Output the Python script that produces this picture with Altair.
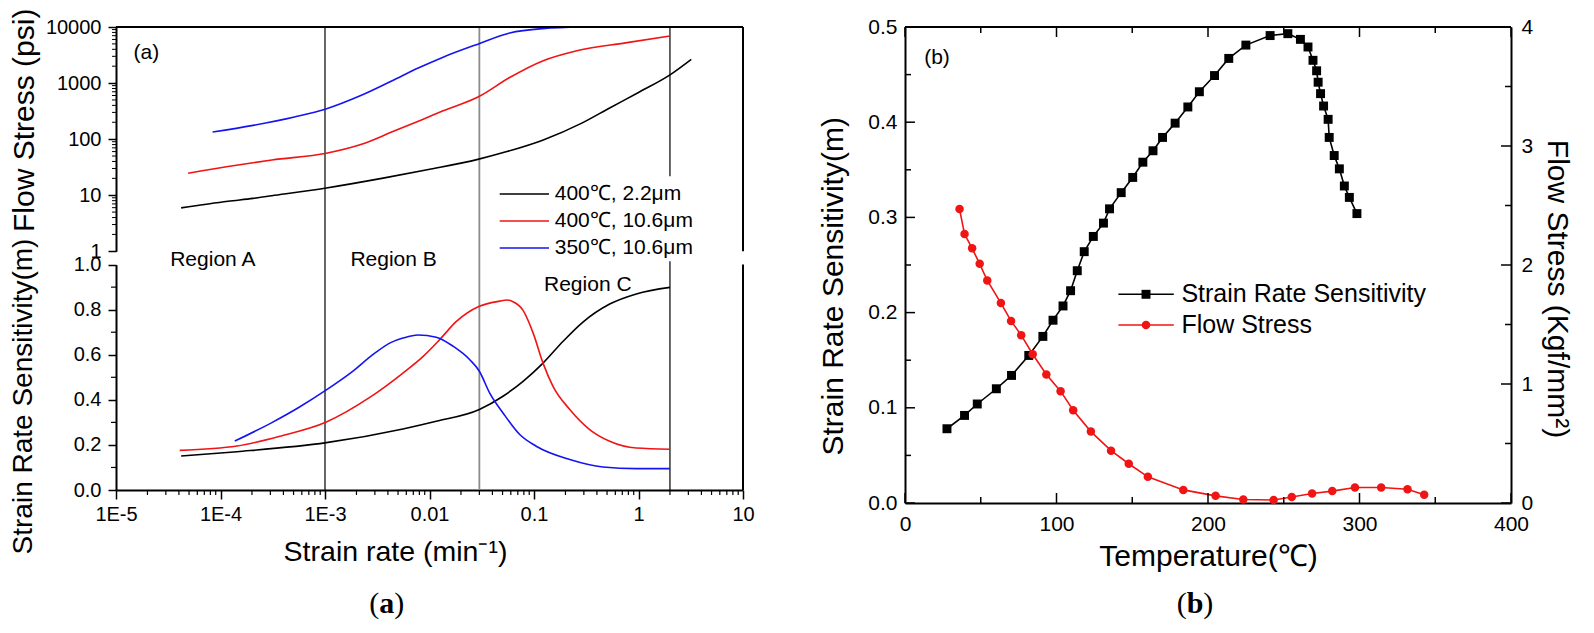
import altair as alt
import pandas as pd

FONT = "Liberation Sans"
SERIF = "Liberation Serif"

# ---------------- panel (a): data ----------------
series_names = ["400℃, 2.2μm", "400℃, 10.6μm", "350℃, 10.6μm"]
series_colors = ["#000000", "#f01414", "#1414f0"]

# flow stress (psi) vs strain rate (1/min)
fs_rate_400_22 = [4.2e-5, 1.18e-4, 2.05e-4, 3.1e-4, 1.03e-3, 3.6e-3, 9.5e-3, 0.029, 0.055, 0.121, 0.29, 0.53, 1.0, 2.0, 3.2]
fs_psi_400_22 = [5.95, 7.8, 8.8, 9.8, 13.5, 20.2, 28.5, 43.6, 60.0, 96.0, 195.0, 360.0, 680.0, 1400.0, 2650.0]
fs_rate_400_106 = [4.9e-5, 1.18e-4, 2.05e-4, 3.1e-4, 1.03e-3, 2.2e-3, 4.4e-3, 8.6e-3, 0.0135, 0.0294, 0.0585, 0.121, 0.252, 0.75, 2.0]
fs_psi_400_106 = [24.7, 32.5, 38.0, 42.5, 56.0, 80.0, 135.0, 225.0, 320.0, 570.0, 1256.0, 2480.0, 3720.0, 5210.0, 6900.0]
fs_rate_350_106 = [8.4e-5, 2.05e-4, 5.1e-4, 1.02e-3, 2.2e-3, 4.4e-3, 7.8e-3, 0.0135, 0.0294, 0.0585, 0.121, 0.29]
fs_psi_350_106 = [134.0, 176.0, 248.0, 345.0, 598.0, 1100.0, 1850.0, 2900.0, 5000.0, 7820.0, 9370.0, 10000.0]

# strain rate sensitivity m vs strain rate
m_rate_400_22 = [4.2e-5, 1.44e-4, 1.03e-3, 5.57e-3, 0.0116, 0.030, 0.0505, 0.0786, 0.122, 0.19, 0.294, 0.53, 0.953, 2.0]
m_400_22 = [0.151, 0.170, 0.210, 0.271, 0.305, 0.357, 0.416, 0.482, 0.563, 0.660, 0.745, 0.825, 0.870, 0.899]
m_rate_400_106 = [4.07e-5, 1.44e-4, 3.8e-4, 1.03e-3, 2.7e-3, 5.57e-3, 8.7e-3, 0.0125, 0.0181, 0.030, 0.047, 0.055, 0.063,
                  0.0786, 0.098, 0.122, 0.152, 0.22, 0.341, 0.53, 0.953, 2.0]
m_400_106 = [0.176, 0.195, 0.240, 0.302, 0.412, 0.519, 0.593, 0.667, 0.748, 0.815, 0.838, 0.843, 0.835,
             0.797, 0.697, 0.563, 0.460, 0.357, 0.268, 0.216, 0.186, 0.181]
m_rate_350_106 = [1.37e-4, 3.1e-4, 5.6e-4, 1.03e-3, 1.8e-3, 2.95e-3, 4.3e-3, 5.57e-3, 7.76e-3, 0.0116, 0.0168,
                  0.0243, 0.030, 0.0377, 0.0505, 0.073, 0.105, 0.22, 0.457, 0.953, 2.0]
m_350_106 = [0.217, 0.299, 0.366, 0.444, 0.523, 0.605, 0.655, 0.674, 0.688, 0.678, 0.638,
             0.578, 0.527, 0.430, 0.342, 0.246, 0.194, 0.135, 0.102, 0.095, 0.095]

region_rates = [1e-3, 0.03, 2.0]
region_colors = ["#000000", "#8c8c8c", "#000000"]
region_widths = [1.2, 1.8, 1.2]
region_labels = ["Region A", "Region B", "Region C"]

xa_ticks = [1e-5, 1e-4, 1e-3, 1e-2, 1e-1, 1, 10]
xa_tick_labels = ["1E-5", "1E-4", "1E-3", "0.01", "0.1", "1", "10"]
xa_minor = [k * 10.0 ** d for d in range(-5, 1) for k in range(2, 10)]
ya_top_ticks = [1, 10, 100, 1000, 10000]
ya_top_minor = [k * 10.0 ** d for d in range(0, 4) for k in range(2, 10)]
ya_bot_ticks = [0.0, 0.2, 0.4, 0.6, 0.8, 1.0]
ya_bot_minor = [0.1, 0.3, 0.5, 0.7, 0.9]

# ---------------- panel (b): data ----------------
legend_b = ["Strain Rate Sensitivity", "Flow Stress"]
temp_srs = [27.7, 39.3, 47.7, 60.3, 70.3, 81.7, 91.0, 97.7, 104.3, 109.3,
            113.7, 118.3, 124.3, 131.0, 135.0, 142.7, 150.3, 157.0, 163.7, 170.0,
            178.3, 186.7, 194.3, 204.3, 213.7, 225.0, 241.0, 252.7, 261.0, 266.0,
            269.3, 271.7, 272.7, 274.3, 276.3, 279.3, 280.0, 283.3, 286.7, 290.0,
            293.3, 298.3]
srs = [0.078, 0.092, 0.104, 0.120, 0.134, 0.155, 0.175, 0.192, 0.207, 0.223,
       0.244, 0.264, 0.280, 0.294, 0.309, 0.326, 0.342, 0.358, 0.370, 0.384,
       0.399, 0.416, 0.432, 0.449, 0.467, 0.481, 0.491, 0.493, 0.487, 0.479,
       0.465, 0.454, 0.442, 0.430, 0.417, 0.403, 0.384, 0.365, 0.351, 0.333,
       0.321, 0.304]
temp_fs = [36.0, 39.3, 44.3, 49.3, 54.3, 63.3, 70.0, 76.7, 84.3, 93.3,
           102.7, 111.0, 122.7, 136.0, 147.7, 160.3, 183.7, 205.0, 223.3, 243.3,
           255.3, 268.7, 282.0, 297.0, 314.3, 331.7, 342.7]
fs_kgf = [2.47, 2.26, 2.14, 2.01, 1.87, 1.68, 1.53, 1.41, 1.25, 1.08,
          0.94, 0.78, 0.60, 0.44, 0.33, 0.22, 0.11, 0.06, 0.03, 0.025,
          0.05, 0.08, 0.10, 0.13, 0.13, 0.115, 0.07]
xb_ticks = [0, 100, 200, 300, 400]
xb_minor = [50, 150, 250, 350]
ybl_ticks = [0.0, 0.1, 0.2, 0.3, 0.4, 0.5]
ybl_minor = [0.05, 0.15, 0.25, 0.35, 0.45]
ybr_ticks = [0, 1, 2, 3, 4]
ybr_minor = [0.5, 1.5, 2.5, 3.5]

# ---------------- tables ----------------
df_fs = pd.concat([
    pd.DataFrame({"rate": fs_rate_400_22, "psi": fs_psi_400_22, "series": series_names[0]}),
    pd.DataFrame({"rate": fs_rate_400_106, "psi": fs_psi_400_106, "series": series_names[1]}),
    pd.DataFrame({"rate": fs_rate_350_106, "psi": fs_psi_350_106, "series": series_names[2]}),
])
df_m = pd.concat([
    pd.DataFrame({"rate": m_rate_400_22, "m": m_400_22, "series": series_names[0]}),
    pd.DataFrame({"rate": m_rate_400_106, "m": m_400_106, "series": series_names[1]}),
    pd.DataFrame({"rate": m_rate_350_106, "m": m_350_106, "series": series_names[2]}),
])
df_region = pd.DataFrame({"rate": region_rates, "c": region_colors, "w": region_widths})
one = pd.DataFrame({"a": [0]})

# ---------------- panel (a) ----------------
WA, HA = 627, 463
TOP_RANGE = [224.3, 0]
BOT_RANGE = [HA, 237.6]

x_a_scale = alt.Scale(type="log", domain=[1e-5, 10], nice=False)
label_expr = "[" + ",".join("'%s'" % s for s in xa_tick_labels) + "][round(log(datum.value)/LN10)+5]"
x_a_axis = alt.Axis(values=xa_ticks, labelExpr=label_expr, tickSize=9, tickWidth=1.5, labelPadding=5,
                    labelFontSize=20, labelFlush=False, labelOverlap=False, domainWidth=2,
                    title="Strain rate (min⁻¹)", titleFontSize=28.5, titleX=279, titleY=61,
                    titleAlign="center", titleBaseline="middle", titleAngle=0)


def XA(field):
    return alt.X(field + ":Q", scale=x_a_scale, axis=x_a_axis)


y_top_scale = alt.Scale(type="log", domain=[1, 10000], range=TOP_RANGE, nice=False)
y_bot_scale = alt.Scale(domain=[0, 1], range=BOT_RANGE, zero=False, nice=False)
color_scale = alt.Scale(domain=series_names, range=series_colors)

top_lines = alt.Chart(df_fs).mark_line(strokeWidth=1.6, interpolate="monotone", clip=True).encode(
    x=XA("rate"),
    y=alt.Y("psi:Q", scale=y_top_scale,
            axis=alt.Axis(orient="left", values=ya_top_ticks, format="d", tickSize=8, tickWidth=1.5,
                          labelPadding=7, labelFontSize=20, labelOverlap=False, domainWidth=2,
                          title="Flow Stress (psi)", titleFontSize=30, titleX=-92, titleY=92.8,
                          titleAngle=270, titleAlign="center", titleBaseline="middle")),
    color=alt.Color("series:N", scale=color_scale, legend=None),
)
bot_lines = alt.Chart(df_m).mark_line(strokeWidth=1.6, interpolate="monotone", clip=True).encode(
    x=XA("rate"),
    y=alt.Y("m:Q", scale=y_bot_scale,
            axis=alt.Axis(orient="left", values=ya_bot_ticks, format=".1f", tickSize=8, tickWidth=1.5,
                          labelPadding=7, labelFontSize=20, labelOverlap=False, domainWidth=2,
                          title="Strain Rate Sensitivity(m)", titleFontSize=28, titleX=-93, titleY=369,
                          titleAngle=270, titleAlign="center", titleBaseline="middle")),
    color=alt.Color("series:N", scale=color_scale, legend=None),
)

xa_minor_layer = alt.Chart(pd.DataFrame({"v": xa_minor})).mark_rule(color="black", strokeWidth=1.2).encode(
    x=XA("v"), y=alt.value(HA), y2=alt.value(HA + 5))
ytop_minor_layer = alt.Chart(pd.DataFrame({"v": ya_top_minor})).mark_rule(color="black", strokeWidth=1).encode(
    y=alt.Y("v:Q", scale=y_top_scale, axis=None), x=alt.value(-4), x2=alt.value(0))
ybot_minor_layer = alt.Chart(pd.DataFrame({"v": ya_bot_minor})).mark_rule(color="black", strokeWidth=1.2).encode(
    y=alt.Y("v:Q", scale=y_bot_scale, axis=None), x=alt.value(-5), x2=alt.value(0))

region_lines = alt.Chart(df_region).mark_rule().encode(
    x=XA("rate"), y=alt.value(0), y2=alt.value(HA),
    color=alt.Color("c:N", scale=None), strokeWidth=alt.StrokeWidth("w:Q", scale=None))

frame_a = [
    alt.Chart(one).mark_rule(color="black", strokeWidth=2).encode(x=alt.value(0), x2=alt.value(WA), y=alt.value(0)),
    alt.Chart(one).mark_rule(color="black", strokeWidth=2).encode(x=alt.value(WA), y=alt.value(0), y2=alt.value(TOP_RANGE[0])),
    alt.Chart(one).mark_rule(color="black", strokeWidth=2).encode(x=alt.value(WA), y=alt.value(BOT_RANGE[1]), y2=alt.value(HA)),
]

legend_a = [alt.Chart(one).mark_rect(color="white").encode(
    x=alt.value(377), x2=alt.value(587), y=alt.value(149.3), y2=alt.value(234.3))]
for i, (nm, col) in enumerate(zip(series_names, series_colors)):
    yy = 167 + 27 * i
    legend_a.append(alt.Chart(one).mark_rule(color=col, strokeWidth=1.6).encode(
        x=alt.value(383.7), x2=alt.value(433), y=alt.value(yy)))
    legend_a.append(alt.Chart(pd.DataFrame({"t": [nm]})).mark_text(
        align="left", baseline="middle", fontSize=21, color="black").encode(
        x=alt.value(438.7), y=alt.value(yy), text="t:N"))

region_pos = [(96.8, 232.6), (277.6, 232.6), (471.8, 257.6)]
region_text = [alt.Chart(pd.DataFrame({"t": [lab]})).mark_text(
    align="center", baseline="middle", fontSize=21, color="black").encode(
    x=alt.value(px), y=alt.value(py), text="t:N") for lab, (px, py) in zip(region_labels, region_pos)]

tag_a = alt.Chart(pd.DataFrame({"t": ["(a)"]})).mark_text(
    align="center", baseline="middle", fontSize=21, color="black").encode(
    x=alt.value(30.3), y=alt.value(26), text="t:N")


def caption(cx, cy, letter, half):
    parts = [("(", "right", cx - half, "normal"), (letter, "center", cx, "bold"), (")", "left", cx + half, "normal")]
    return [alt.Chart(pd.DataFrame({"t": [s]})).mark_text(
        align=al, baseline="middle", fontSize=30, font=SERIF, fontWeight=fw, color="black").encode(
        x=alt.value(px), y=alt.value(cy), text="t:N") for s, al, px, fw in parts]


panel_a = alt.layer(
    region_lines, top_lines, bot_lines, xa_minor_layer, ytop_minor_layer, ybot_minor_layer,
    *frame_a, *legend_a, *region_text, tag_a, *caption(270.7, 577.3, "a", 7.5)
).resolve_scale(y="independent").properties(width=WA, height=HA)

# ---------------- panel (b) ----------------
WB, HB = 606, 476
df_srs = pd.DataFrame({"T": temp_srs, "m": srs})
df_fsb = pd.DataFrame({"T": temp_fs, "s": fs_kgf})

x_b_scale = alt.Scale(domain=[0, 400], nice=False)
x_b_axis = alt.Axis(values=xb_ticks, ticks=False, labelPadding=10, labelFontSize=21, labelFlush=False,
                    labelOverlap=False, domainWidth=2, title="Temperature(℃)", titleFontSize=30,
                    titleX=303, titleY=53, titleAlign="center", titleBaseline="middle", titleAngle=0)


def XB(field):
    return alt.X(field + ":Q", scale=x_b_scale, axis=x_b_axis)


y_bl_scale = alt.Scale(domain=[0, 0.5], nice=False, zero=False)
y_br_scale = alt.Scale(domain=[0, 4], nice=False, zero=False)
RED = "#f01414"

srs_line = alt.Chart(df_srs).mark_line(color="black", strokeWidth=1.6).encode(
    x=XB("T"),
    y=alt.Y("m:Q", scale=y_bl_scale,
            axis=alt.Axis(orient="left", values=ybl_ticks, format=".1f", ticks=False, labelPadding=8,
                          labelFontSize=21, labelOverlap=False, domainWidth=2,
                          title="Strain Rate Sensitivity(m)", titleFontSize=30, titleX=-71.3, titleY=258.8,
                          titleAngle=270, titleAlign="center", titleBaseline="middle")))
srs_pts = alt.Chart(df_srs).mark_point(shape="square", filled=True, size=80, color="black", opacity=1).encode(
    x=XB("T"), y=alt.Y("m:Q", scale=y_bl_scale, axis=None))
fs_line = alt.Chart(df_fsb).mark_line(color=RED, strokeWidth=1.6).encode(
    x=XB("T"),
    y=alt.Y("s:Q", scale=y_br_scale,
            axis=alt.Axis(orient="right", values=ybr_ticks, format="d", ticks=False, labelPadding=10,
                          labelFontSize=21, labelOverlap=False, domainWidth=2,
                          title="Flow Stress (Kgf/mm²)", titleFontSize=30, titleX=45, titleY=261.5,
                          titleAngle=90, titleAlign="center", titleBaseline="middle")))
fs_pts = alt.Chart(df_fsb).mark_point(shape="circle", filled=True, size=72, color=RED, opacity=1).encode(
    x=XB("T"), y=alt.Y("s:Q", scale=y_br_scale, axis=None))

ticks_b = []
for vals, ln in ((xb_ticks, 10), (xb_minor, 6)):
    d = pd.DataFrame({"v": vals})
    ticks_b.append(alt.Chart(d).mark_rule(color="black", strokeWidth=1.5).encode(
        x=XB("v"), y=alt.value(HB), y2=alt.value(HB - ln)))
    ticks_b.append(alt.Chart(d).mark_rule(color="black", strokeWidth=1.5).encode(
        x=XB("v"), y=alt.value(0), y2=alt.value(ln)))
for vals, ln in ((ybl_ticks, 10), (ybl_minor, 6)):
    ticks_b.append(alt.Chart(pd.DataFrame({"v": vals})).mark_rule(color="black", strokeWidth=1.5).encode(
        y=alt.Y("v:Q", scale=y_bl_scale, axis=None), x=alt.value(0), x2=alt.value(ln)))
for vals, ln in ((ybr_ticks, 10), (ybr_minor, 6)):
    ticks_b.append(alt.Chart(pd.DataFrame({"v": vals})).mark_rule(color="black", strokeWidth=1.5).encode(
        y=alt.Y("v:Q", scale=y_br_scale, axis=None), x=alt.value(WB), x2=alt.value(WB - ln)))

top_b = alt.Chart(one).mark_rule(color="black", strokeWidth=2).encode(
    x=alt.value(0), x2=alt.value(WB), y=alt.value(0))

legend_bl = []
for i, (nm, col, shp, sz) in enumerate(zip(legend_b, ["black", RED], ["square", "circle"], [80, 72])):
    yy = 267.3 + 30.7 * i
    legend_bl.append(alt.Chart(one).mark_rule(color=col, strokeWidth=1.6).encode(
        x=alt.value(213.4), x2=alt.value(268.8), y=alt.value(yy)))
    legend_bl.append(alt.Chart(one).mark_point(shape=shp, filled=True, size=sz, color=col, opacity=1).encode(
        x=alt.value(241), y=alt.value(yy)))
    legend_bl.append(alt.Chart(pd.DataFrame({"t": [nm]})).mark_text(
        align="left", baseline="middle", fontSize=25, color="black").encode(
        x=alt.value(276.4), y=alt.value(yy), text="t:N"))

tag_b = alt.Chart(pd.DataFrame({"t": ["(b)"]})).mark_text(
    align="center", baseline="middle", fontSize=21, color="black").encode(
    x=alt.value(32), y=alt.value(30.6), text="t:N")

panel_b = alt.layer(
    srs_line, fs_line, srs_pts, fs_pts, *ticks_b, top_b, *legend_bl, tag_b, *caption(290, 577.3, "b", 8.3)
).resolve_scale(y="independent").properties(width=WB, height=HB)

chart = alt.hconcat(panel_a, panel_b, spacing=162, bounds="flush").properties(
    padding={"left": 0, "top": 0, "right": 12, "bottom": 0}
).configure(font=FONT).configure_view(stroke=None).configure_axis(
    domainColor="black", tickColor="black", labelColor="black", titleColor="black",
    grid=False, labelFont=FONT, titleFont=FONT, titleFontWeight="normal"
)

chart.save("out.html", embed_options={"renderer": "svg", "actions": False})
